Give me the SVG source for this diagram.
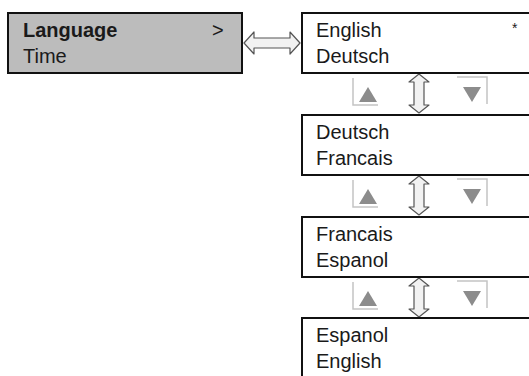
<svg xmlns="http://www.w3.org/2000/svg" width="529" height="376" viewBox="0 0 529 376">
<style>
text{font-family:"Liberation Sans",Arial,sans-serif;font-size:20px;fill:#1a1a1a}
.box{fill:#fff;stroke:#111;stroke-width:2}
.sel{fill:#bcbcbc;stroke:#111;stroke-width:2}
.arr{fill:#f2f2f2;stroke:#555;stroke-width:1.2;stroke-linejoin:round}
.btn{fill:none;stroke:#c4c4c4;stroke-width:1.5}
.tri{fill:#8c8c8c}
</style>
<defs>
<g id="btns">
<polyline class="btn" points="353,5 353,32 378,32"/>
<polygon class="tri" points="368,14 359,29 377,29"/>
<polyline class="btn" points="457,4 487,4 487,31"/>
<polygon class="tri" points="463,14 481,14 472,29"/>
</g>
<path id="varr" class="arr" d="M419,1 L429,9 L424,9 L424,32 L429,32 L419,40 L409,32 L414,32 L414,9 L409,9 Z"/>
</defs>
<g id="connectors">
<path class="arr" d="M244,43 L254,32 L254,38 L290,38 L290,32 L300,43 L290,54 L290,48 L254,48 L254,54 Z"/>
<use href="#varr" transform="translate(0,73)"/>
<use href="#varr" transform="translate(0,175)"/>
<use href="#varr" transform="translate(0,277)"/>
</g>
<g id="buttons">
<use href="#btns" transform="translate(0,73)"/>
<use href="#btns" transform="translate(0,175)"/>
<use href="#btns" transform="translate(0,277)"/>
</g>
<g id="menu">
<rect class="sel" x="8" y="13" width="234" height="60"/>
<text x="23" y="37" font-weight="bold">Language</text>
<text x="212" y="37">&gt;</text>
<text x="23" y="63">Time</text>
</g>
<g id="lang1">
<rect class="box" x="302" y="13" width="240" height="60"/>
<text x="316" y="37">English</text>
<text x="316" y="63">Deutsch</text>
<text x="512" y="33" style="font-size:14px">*</text>
</g>
<g id="lang2">
<rect class="box" x="302" y="115" width="240" height="60"/>
<text x="316" y="139">Deutsch</text>
<text x="316" y="165">Francais</text>
</g>
<g id="lang3">
<rect class="box" x="302" y="217" width="240" height="60"/>
<text x="316" y="241">Francais</text>
<text x="316" y="267">Espanol</text>
</g>
<g id="lang4">
<rect class="box" x="302" y="318" width="240" height="70"/>
<text x="316" y="342">Espanol</text>
<text x="316" y="368">English</text>
</g>
</svg>
